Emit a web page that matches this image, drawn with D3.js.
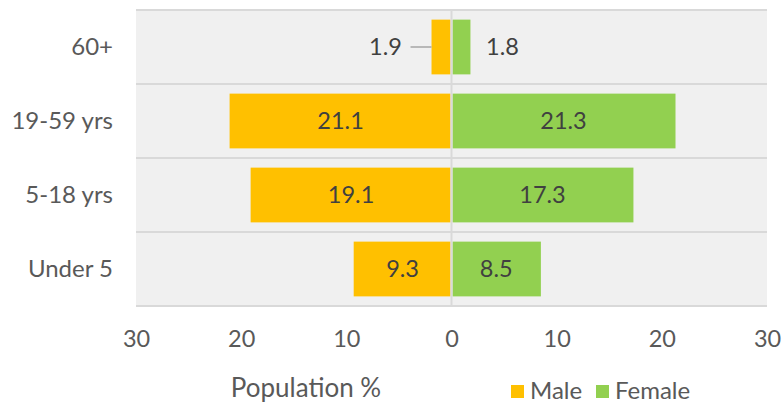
<!DOCTYPE html>
<html>
<head>
<meta charset="utf-8">
<script src="https://cdn.jsdelivr.net/npm/d3@7"></script>
<style>
  body { margin: 0; background: #fff; }
  text { font-family: Lato, "Open Sans", sans-serif; }
</style>
</head>
<body>
<div id="chart"></div>
<script>
// Donnees
var ageGroups = ["60+", "19-59 yrs", "5-18 yrs", "Under 5"];
var maleValues = [1.9, 21.1, 19.1, 9.3];
var femaleValues = [1.8, 21.3, 17.3, 8.5];
var xTicks = [-30, -20, -10, 0, 10, 20, 30];

var width = 782, height = 404;
var margin = {top: 10, right: 15, bottom: 98, left: 136};

var svg = d3.select("#chart")
  .append("svg")
    .attr("width", width)
    .attr("height", height);

var x = d3.scaleLinear()
  .domain([-30, 30])
  .range([margin.left, width - margin.right]);

var y = d3.scaleBand()
  .domain(ageGroups)
  .range([margin.top, height - margin.bottom])
  .paddingInner(0.26)
  .paddingOuter(0.13);

var rows = d3.scaleBand()
  .domain(ageGroups)
  .range([margin.top, height - margin.bottom]);

// fond
svg.append("rect")
  .attr("x", x(-30))
  .attr("y", margin.top)
  .attr("width", x(30) - x(-30))
  .attr("height", height - margin.bottom - margin.top)
  .attr("fill", "#f0f0f0");

// lignes de separation
var seps = [margin.top].concat(ageGroups.map(function(d){ return rows(d) + rows.bandwidth(); }));
svg.selectAll(".sep")
  .data(seps)
  .enter()
  .append("line")
    .attr("x1", x(-30))
    .attr("x2", x(30))
    .attr("y1", function(d){ return d; })
    .attr("y2", function(d){ return d; })
    .attr("stroke", "#d9d9d9")
    .attr("stroke-width", 2);

// barres hommes
svg.selectAll(".male")
  .data(maleValues)
  .enter()
  .append("rect")
    .attr("x", function(d){ return x(-d); })
    .attr("y", function(d, i){ return y(ageGroups[i]); })
    .attr("width", function(d){ return x(0) - x(-d) - 1; })
    .attr("height", y.bandwidth())
    .attr("fill", "#ffc000");

// barres femmes
svg.selectAll(".female")
  .data(femaleValues)
  .enter()
  .append("rect")
    .attr("x", x(0) + 1)
    .attr("y", function(d, i){ return y(ageGroups[i]); })
    .attr("width", function(d){ return x(d) - x(0) - 1; })
    .attr("height", y.bandwidth())
    .attr("fill", "#92d050");

// axe zero
svg.append("line")
  .attr("x1", x(0)).attr("x2", x(0))
  .attr("y1", margin.top).attr("y2", height - margin.bottom)
  .attr("stroke", "#d9d9d9")
  .attr("stroke-width", 2);

// etiquettes hommes
svg.selectAll(".mlabel")
  .data(maleValues)
  .enter()
  .append("text")
    .attr("x", function(d){ return d < 5 ? x(-d) - 46 : x(-d / 2); })
    .attr("y", function(d, i){ return y(ageGroups[i]) + y.bandwidth() / 2; })
    .attr("dy", "0.36em")
    .attr("text-anchor", "middle")
    .style("font-size", "23.5px")
    .style("fill", "#404040")
    .text(function(d){ return d.toFixed(1); });

// ligne de rappel pour la petite valeur
svg.selectAll(".leader")
  .data(maleValues.filter(function(d){ return d < 5; }))
  .enter()
  .append("line")
    .attr("x1", function(d){ return x(-d) - 21; })
    .attr("x2", function(d){ return x(-d); })
    .attr("y1", function(d){ return y(ageGroups[maleValues.indexOf(d)]) + y.bandwidth() / 2; })
    .attr("y2", function(d){ return y(ageGroups[maleValues.indexOf(d)]) + y.bandwidth() / 2; })
    .attr("stroke", "#a6a6a6")
    .attr("stroke-width", 1.5);

// etiquettes femmes
svg.selectAll(".flabel")
  .data(femaleValues)
  .enter()
  .append("text")
    .attr("x", function(d){ return d < 5 ? x(d) + 32 : x(d / 2); })
    .attr("y", function(d, i){ return y(ageGroups[i]) + y.bandwidth() / 2; })
    .attr("dy", "0.36em")
    .attr("text-anchor", "middle")
    .style("font-size", "23.5px")
    .style("fill", "#404040")
    .text(function(d){ return d.toFixed(1); });

// axe des abscisses
var xAxis = svg.append("g")
  .attr("transform", "translate(0," + (height - margin.bottom) + ")")
  .call(d3.axisBottom(x).tickValues(xTicks).tickSize(0).tickPadding(24)
        .tickFormat(function(d){ return Math.abs(d); }));
xAxis.select(".domain").remove();
xAxis.selectAll("text")
  .style("font-size", "23.5px")
  .style("font-family", "Lato, sans-serif")
  .style("fill", "#595959");

// axe des ordonnees
var yAxis = svg.append("g")
  .attr("transform", "translate(" + (margin.left - 23) + ",0)")
  .call(d3.axisLeft(rows).tickSize(0).tickPadding(0));
yAxis.select(".domain").remove();
yAxis.selectAll("text")
  .style("font-size", "24px")
  .style("font-family", "Lato, sans-serif")
  .style("fill", "#595959");

// titre de l'axe
svg.append("text")
  .attr("x", 306)
  .attr("y", 397)
  .attr("text-anchor", "middle")
  .style("font-size", "26px")
  .style("fill", "#595959")
  .text("Population %");

// legende
var legend = [{name: "Male", color: "#ffc000", x: 511}, {name: "Female", color: "#92d050", x: 596}];
var lg = svg.selectAll(".legend")
  .data(legend)
  .enter()
  .append("g")
    .attr("transform", function(d){ return "translate(" + d.x + ",385)"; });
lg.append("rect")
  .attr("width", 13)
  .attr("height", 13)
  .attr("fill", function(d){ return d.color; });
lg.append("text")
  .attr("x", 19)
  .attr("y", 14)
  .style("font-size", "24px")
  .style("fill", "#595959")
  .text(function(d){ return d.name; });
</script>
</body>
</html>
